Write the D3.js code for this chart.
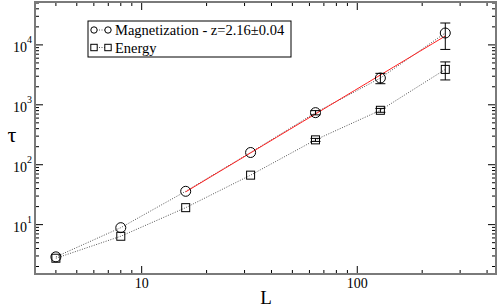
<!DOCTYPE html>
<html><head><meta charset="utf-8">
<script src="https://cdn.jsdelivr.net/npm/d3@7"></script>
<style>body{margin:0;background:#fff}svg{display:block}text{font-family:"Liberation Serif","Times New Roman",serif}</style>
</head><body><svg id="c" width="498" height="307"></svg>
<script>
const sizes = [4, 8, 16, 32, 64, 128, 256];
const magTau = [2.9, 8.9, 36, 160, 740, 2800, 15800];
const magErr = [0.15, 0.4, 1.5, 6, 60, 550, 7400];
const enTau = [2.75, 6.4, 19.2, 67, 260, 810, 3900];
const enErr = [0.15, 0.3, 0.8, 3, 15, 60, 1300];
const fitZ = 2.16;
const fitA = 0.0884;
const fitRange = [16, 256];
const xTicks = [10, 100];
const yTicks = [10, 100, 1000, 10000];
const legendLabels = ["Magnetization - z=2.16\u00b10.04", "Energy"];

const L = 35, R = 496, T = 2, B = 274;
const svg = d3.select("#c");
const x = d3.scaleLog().domain([3.2, 440]).range([L, R]);
const y = d3.scaleLog().domain([1.5, 52000]).range([B, T]);

const axisCol = "#7a7a7a";
const xMinor = [];
for (let d = 1; d <= 100; d *= 10) for (let k = 2; k <= 9; k++) { const v = d * k; if (v >= 3.2 && v <= 440) xMinor.push(v); }
const yMinor = [];
for (let d = 1; d <= 10000; d *= 10) for (let k = 2; k <= 9; k++) { const v = d * k; if (v >= 1.5 && v <= 52000) yMinor.push(v); }

const g = svg.append("g");
const tickG = g.append("g").attr("stroke", "#000").attr("stroke-width", 1);
xMinor.forEach(v => {
  tickG.append("line").attr("x1", x(v)).attr("x2", x(v)).attr("y1", B).attr("y2", B - 4);
  tickG.append("line").attr("x1", x(v)).attr("x2", x(v)).attr("y1", T).attr("y2", T + 4);
});
xTicks.forEach(v => {
  tickG.append("line").attr("x1", x(v)).attr("x2", x(v)).attr("y1", B).attr("y2", B - 8);
  tickG.append("line").attr("x1", x(v)).attr("x2", x(v)).attr("y1", T).attr("y2", T + 8);
});
yMinor.forEach(v => {
  tickG.append("line").attr("y1", y(v)).attr("y2", y(v)).attr("x1", L).attr("x2", L + 4);
  tickG.append("line").attr("y1", y(v)).attr("y2", y(v)).attr("x1", R).attr("x2", R - 4);
});
yTicks.forEach(v => {
  tickG.append("line").attr("y1", y(v)).attr("y2", y(v)).attr("x1", L).attr("x2", L + 8);
  tickG.append("line").attr("y1", y(v)).attr("y2", y(v)).attr("x1", R).attr("x2", R - 8);
});

g.append("rect").attr("x", L).attr("y", T).attr("width", R - L).attr("height", B - T)
  .attr("fill", "none").attr("stroke", axisCol).attr("stroke-width", 2);

xTicks.forEach(v => {
  g.append("text").attr("x", x(v)).attr("y", 288).attr("text-anchor", "middle")
    .attr("font-size", 14).text(String(v));
});
yTicks.forEach(v => {
  const e = Math.round(Math.log10(v));
  g.append("text").attr("x", 27).attr("y", y(v) + 7).attr("text-anchor", "end").attr("font-size", 14).text("10");
  g.append("text").attr("x", 27).attr("y", y(v) - 2).attr("font-size", 10).text(String(e));
});

g.append("text").attr("x", 266).attr("y", 304).attr("text-anchor", "middle").attr("font-size", 19).text("L");
g.append("text").attr("x", 12).attr("y", 142).attr("text-anchor", "middle").attr("font-size", 22).text("\u03c4");

const line = (vals) => d3.line().x((d, i) => x(sizes[i])).y(d => y(d))(vals);
g.append("path").attr("d", line(magTau)).attr("fill", "none").attr("stroke", "#555").attr("stroke-width", 1).attr("stroke-dasharray", "1,1.5");
g.append("path").attr("d", line(enTau)).attr("fill", "none").attr("stroke", "#555").attr("stroke-width", 1).attr("stroke-dasharray", "1,1.5");

const fitPts = d3.range(0, 21).map(i => fitRange[0] * Math.pow(fitRange[1] / fitRange[0], i / 20));
g.append("path").attr("d", d3.line().x(d => x(d)).y(d => y(fitA * Math.pow(d, fitZ)))(fitPts))
  .attr("fill", "none").attr("stroke", "#ff2020").attr("stroke-width", 1);

function errBars(vals, errs) {
  vals.forEach((v, i) => {
    const cx = x(sizes[i]), y1 = y(v + errs[i]), y2 = y(Math.max(v - errs[i], 1.6));
    if (Math.abs(y1 - y2) < 3) return;
    g.append("line").attr("x1", cx).attr("x2", cx).attr("y1", y1).attr("y2", y2).attr("stroke", "#000");
    [y1, y2].forEach(yy => g.append("line").attr("x1", cx - 5).attr("x2", cx + 5).attr("y1", yy).attr("y2", yy).attr("stroke", "#000"));
  });
}
errBars(magTau, magErr);
errBars(enTau, enErr);

magTau.forEach((v, i) => g.append("circle").attr("cx", x(sizes[i])).attr("cy", y(v)).attr("r", 5)
  .attr("fill", "none").attr("stroke", "#000").attr("stroke-width", 1));
enTau.forEach((v, i) => g.append("rect").attr("x", x(sizes[i]) - 4).attr("y", y(v) - 4).attr("width", 8).attr("height", 8)
  .attr("fill", "none").attr("stroke", "#000").attr("stroke-width", 1));

const lg = g.append("g");
lg.append("rect").attr("x", 88).attr("y", 21).attr("width", 203).attr("height", 36)
  .attr("fill", "#fff").attr("stroke", "#000").attr("stroke-width", 1);
const rows = [30, 47.5];
rows.forEach((ry, i) => {
  lg.append("line").attr("x1", 94).attr("x2", 108).attr("y1", ry).attr("y2", ry)
    .attr("stroke", "#555").attr("stroke-dasharray", "1,1.5");
  [94, 108].forEach(px => {
    if (i === 0) lg.append("circle").attr("cx", px).attr("cy", ry).attr("r", 3.2).attr("fill", "#fff").attr("stroke", "#000");
    else lg.append("rect").attr("x", px - 3.2).attr("y", ry - 3.2).attr("width", 6.4).attr("height", 6.4).attr("fill", "#fff").attr("stroke", "#000");
  });
  lg.append("text").attr("x", 115).attr("y", ry + 5).attr("font-size", 14.5).text(legendLabels[i]);
});
</script></body></html>
